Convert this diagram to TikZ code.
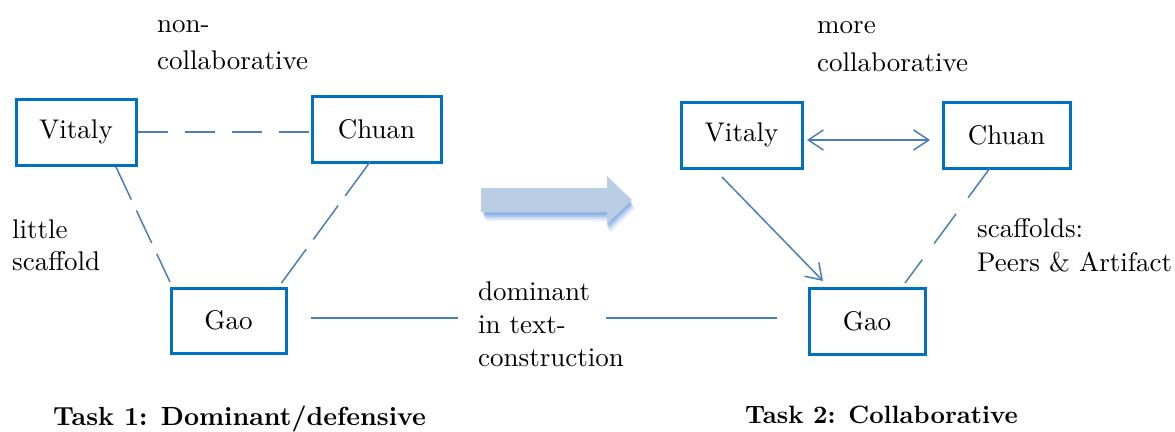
\documentclass[tikz,border=0pt]{standalone}
\usepackage{fontspec}
\setmainfont{lmroman10-regular.otf}[BoldFont=lmroman10-bold.otf]
\usetikzlibrary{arrows.meta,calc}
\definecolor{boxblue}{HTML}{0070C0}
\definecolor{linkblue}{HTML}{4A7EBB}
\definecolor{arrowfill}{HTML}{B9CDE5}
\definecolor{arrowshade}{HTML}{5E8FD8}
\begin{document}
\begin{tikzpicture}[x=1pt,y=1pt,
  >={Straight Barb[length=15pt,width=20pt]},
  person/.style={draw=boxblue, line width=3pt, fill=white, inner sep=0pt,
    font=\fontsize{27}{34}\selectfont},
  link/.style={draw=linkblue, line width=1.5pt},
  lbl/.style={inner sep=0pt, align=left, anchor=north west},
  tasktitle/.style={inner sep=0pt, anchor=base west}
]
\useasboundingbox (0,0) rectangle (1175,-431);

% fat transition arrow with soft shadow
\foreach \dx/\dy/\op in {3/-9/0.12,2/-7/0.2,1/-5/0.3,0/-3/0.35}{
  \fill[arrowshade, opacity=\op, shift={(\dx,\dy)}]
    (483,-188) -- (607,-188) -- (607,-176) -- (632,-200) -- (607,-224) -- (607,-212) -- (483,-212) -- cycle;
}
\fill[arrowfill]
  (481,-188) -- (607,-188) -- (607,-176) -- (632,-200) -- (607,-224) -- (607,-212) -- (481,-212) -- cycle;

% Task 1
\node[person, minimum width=120pt, minimum height=66pt] (v1) at (76,-132) {Vitaly};
\node[person, minimum width=129pt, minimum height=66pt] (c1) at (376.5,-129) {Chuan};
\node[person, minimum width=115pt, minimum height=65pt] (g1) at (228.5,-320.5) {Gao};

% Task 2
\node[person, minimum width=121pt, minimum height=66pt] (v2) at (741.5,-135) {Vitaly};
\node[person, minimum width=127pt, minimum height=66pt] (c2) at (1006.5,-135) {Chuan};
\node[person, minimum width=116pt, minimum height=66pt] (g2) at (867,-321) {Gao};

% labels
\node[lbl, font=\fontsize{27}{37}\selectfont] (nc) at (157,-6) {\strut non-\\collaborative};
\node[lbl, font=\fontsize{27}{38}\selectfont] (mc) at (817,-6.7) {\strut more\\collaborative};
\node[lbl, font=\fontsize{27}{32}\selectfont] (ls) at (12,-215.9) {\strut little\\scaffold};
\node[lbl, font=\fontsize{27}{34.4}\selectfont] (sp) at (977,-213.2) {\strut scaffolds:\\Peers \& Artifact};
\node[lbl, font=\fontsize{27}{33.3}\selectfont] (dom) at (478,-276.7) {\strut dominant\\in text-\\construction};

\node[tasktitle, font=\bfseries\fontsize{26.2}{36}\selectfont] (t1) at (53,-425) {Task 1: Dominant/defensive};
\node[tasktitle, font=\bfseries\fontsize{25.1}{36}\selectfont] (t2) at (745,-423) {Task 2: Collaborative};

% Task 1 connectors
\draw[link, dash pattern=on 30pt off 17pt] (v1.east) -- (v1.east -| c1.west);
\draw[link, dash pattern=on 36pt off 12pt] ($(v1.south)+(40,-0.5)$) -- ($(g1.north west)+(0.5,4.5)$);
\draw[link, dash pattern=on 42pt off 12pt] ($(c1.south)+(-6.5,1.5)$) -- ($(g1.north east)+(-7.5,1.5)$);

% Gao -- Gao line, broken by the label
\coordinate (ga) at ($(g1.east)+(23.5,2.5)$);
\coordinate (dl) at ($(dom.west)+(-20,0)$);
\coordinate (gb) at ($(g2.west)+(-30.5,3)$);
\coordinate (dr) at ($(dom.west)+(128,0)$);
\draw[link] (ga) -- (dl |- ga);
\draw[link] (dr |- gb) -- (gb);

% Task 2 connectors
\draw[link, <->] ($(v2.east)+(3.5,-5)$) -- ($(c2.west)+(-11.5,-5)$);
\draw[link, ->] ($(v2.south)+(-19.5,-7.5)$) -- ($(g2.north west)+(15.5,5.5)$);
\draw[link, dash pattern=on 37pt off 20pt] ($(c2.south)+(-16.5,1.5)$) -- ($(g2.north east)+(-21.5,3.5)$);
\end{tikzpicture}
\end{document}
